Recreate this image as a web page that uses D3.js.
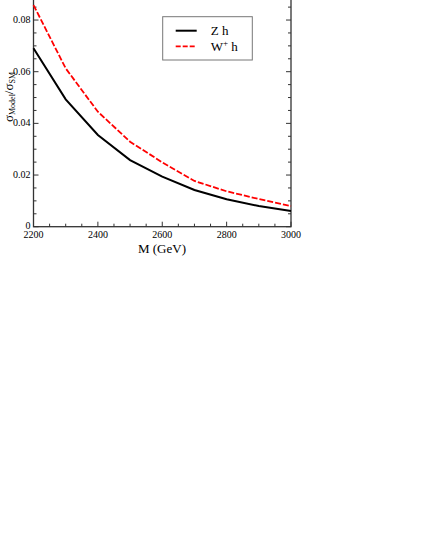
<!DOCTYPE html>
<html>
<head>
<meta charset="utf-8">
<script src="https://cdn.jsdelivr.net/npm/d3@7"></script>
<style>
  body { margin: 0; background: #fff; }
  svg { display: block; }
  text { font-family: "Liberation Serif", "Times New Roman", serif; fill: #000; }
</style>
</head>
<body>
<svg id="chart" width="425" height="550"></svg>
<script>
// data ========================================================
var masses = [2200, 2300, 2400, 2500, 2600, 2700, 2800, 2900, 3000];
var zh = [0.0691, 0.0493, 0.0355, 0.0258, 0.0194, 0.0142, 0.0106, 0.0080, 0.0061];
var wh = [0.0858, 0.0613, 0.0445, 0.0329, 0.0249, 0.0177, 0.0137, 0.0107, 0.0080];
var xTicks = [2200, 2400, 2600, 2800, 3000];
var yTicks = [0, 0.02, 0.04, 0.06, 0.08];

var svg = d3.select("#chart");

// plot box (its top edge sits just above the frame)
var plotLeft = 33.5, plotRight = 291, plotBottom = 226.7, plotTop = -5.8;

var x = d3.scaleLinear().domain([2200, 3000]).range([plotLeft, plotRight]);
var y = d3.scaleLinear().domain([0, 0.09]).range([plotBottom, plotTop]);

var g = svg.append("g");

// frame
g.append("rect")
  .attr("x", plotLeft).attr("y", plotTop)
  .attr("width", plotRight - plotLeft).attr("height", plotBottom - plotTop)
  .attr("fill", "none").attr("stroke", "#333").attr("stroke-width", 1.3);

// ticks, pointing inward
var xMinor = d3.range(2200, 3001, 50);
var yMinor = d3.range(0, 0.0901, 0.005);

function tickLen(isMajor) { return isMajor ? 5 : 3; }

xMinor.forEach(function(v) {
  var major = v % 200 == 0;
  g.append("line").attr("x1", x(v)).attr("x2", x(v))
    .attr("y1", plotBottom).attr("y2", plotBottom - tickLen(major))
    .attr("stroke", "#333").attr("stroke-width", 1);
});

yMinor.forEach(function(v) {
  var major = Math.round(v * 1000) % 20 == 0;
  g.append("line").attr("x1", plotLeft).attr("x2", plotLeft + tickLen(major))
    .attr("y1", y(v)).attr("y2", y(v))
    .attr("stroke", "#333").attr("stroke-width", 1);
  g.append("line").attr("x1", plotRight).attr("x2", plotRight - tickLen(major))
    .attr("y1", y(v)).attr("y2", y(v))
    .attr("stroke", "#333").attr("stroke-width", 1);
});

// tick labels
g.selectAll(".xl").data(xTicks).enter().append("text")
  .attr("class", "xl")
  .attr("x", function(d) { return x(d); })
  .attr("y", 238)
  .attr("text-anchor", "middle")
  .style("font-size", "10px")
  .text(function(d) { return d; });

g.selectAll(".yl").data(yTicks).enter().append("text")
  .attr("class", "yl")
  .attr("x", 30.5)
  .attr("y", function(d) { return y(d) + (d == 0 ? 2 : 3); })
  .attr("text-anchor", "end")
  .style("font-size", "10px")
  .text(function(d) { return d == 0 ? "0" : d3.format(".2f")(d); });

// axis titles
svg.append("text")
  .attr("x", 162).attr("y", 253)
  .attr("text-anchor", "middle")
  .style("font-size", "13px")
  .text("M (GeV)");

var yt = svg.append("text")
  .attr("transform", "translate(12.5,97) rotate(-90)")
  .attr("text-anchor", "middle")
  .style("font-size", "13px");
yt.append("tspan").text("σ");
yt.append("tspan").attr("dy", 2.5).style("font-size", "8px").text("Model");
yt.append("tspan").attr("dy", -2.5).text("/σ");
yt.append("tspan").attr("dy", 2.5).style("font-size", "8px").text("SM");

// curves
var line = d3.line()
  .x(function(d) { return x(d[0]); })
  .y(function(d) { return y(d[1]); });

g.append("path")
  .datum(d3.zip(masses, zh))
  .attr("d", line)
  .attr("fill", "none").attr("stroke", "#000").attr("stroke-width", 2);

g.append("path")
  .datum(d3.zip(masses, wh))
  .attr("d", line)
  .attr("fill", "none").attr("stroke", "#f00").attr("stroke-width", 1.8)
  .attr("stroke-dasharray", "6,2");

// legend
var lg = svg.append("g");
lg.append("rect")
  .attr("x", 162.7).attr("y", 16.7).attr("width", 89.6).attr("height", 43.3)
  .attr("fill", "#fff").attr("stroke", "#777").attr("stroke-width", 1);
lg.append("line").attr("x1", 175.7).attr("x2", 196.7).attr("y1", 30.7).attr("y2", 30.7)
  .attr("stroke", "#000").attr("stroke-width", 2);
lg.append("line").attr("x1", 175.7).attr("x2", 196.7).attr("y1", 46.3).attr("y2", 46.3)
  .attr("stroke", "#f00").attr("stroke-width", 1.8).attr("stroke-dasharray", "5,2");
lg.append("text").attr("x", 210.7).attr("y", 35).style("font-size", "13px").text("Z h");
var wt = lg.append("text").attr("x", 210.7).attr("y", 51).style("font-size", "13px");
wt.append("tspan").text("W");
wt.append("tspan").attr("dy", -5).style("font-size", "9px").text("+");
wt.append("tspan").attr("dy", 5).text(" h");
</script>
</body>
</html>
